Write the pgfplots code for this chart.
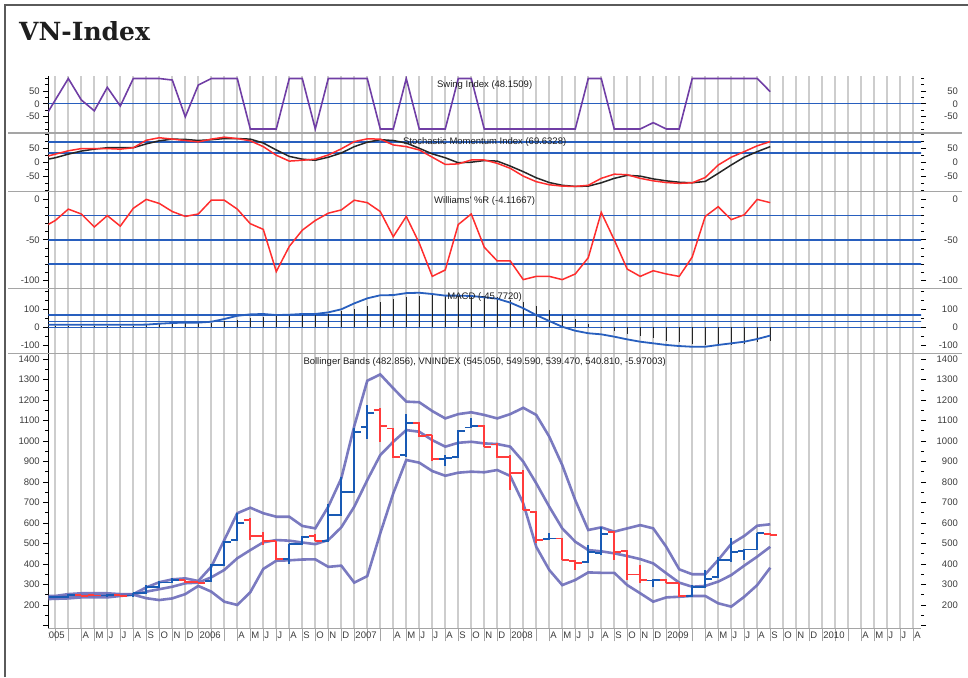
\documentclass[border=0pt]{standalone}
\usepackage{pgfplots}
\pgfplotsset{compat=1.18}
\usepackage{pgfplotstable}
\usepackage{fontspec}
\newfontfamily\labfont{Liberation Sans}
\newfontfamily\titlefont{DejaVu Serif}
\def\lf{\labfont\fontsize{9.5}{11}\selectfont}

\definecolor{gridgray}{RGB}{205,205,205}
\definecolor{sepcol}{RGB}{165,165,165}
\definecolor{framecol}{RGB}{90,90,90}
\definecolor{labcol}{RGB}{60,60,60}
\definecolor{titlecol}{RGB}{30,30,30}
\definecolor{hblue}{RGB}{40,95,190}
\definecolor{swingcol}{RGB}{112,62,165}
\definecolor{smired}{RGB}{255,45,45}
\definecolor{bbcol}{RGB}{108,108,185}
\definecolor{upblue}{RGB}{25,90,180}
\definecolor{dnred}{RGB}{255,60,60}

% open tick to the left, close tick to the right
\pgfdeclareplotmark{otick}{\pgfpathmoveto{\pgfqpoint{-6.5pt}{0pt}}\pgfpathlineto{\pgfqpoint{0pt}{0pt}}\pgfusepathqstroke}
\pgfdeclareplotmark{ctick}{\pgfpathmoveto{\pgfqpoint{0pt}{0pt}}\pgfpathlineto{\pgfqpoint{6.5pt}{0pt}}\pgfusepathqstroke}

% m = months since Jan 2005
\pgfplotstableread{
m swing smik smid wr macd hist bbu bbm bbl
0 -70 18 8 -35 15 10 244 237 228
1 15 30 17 -26 14 10 244 238 230
2 100 42 30 -12 14 10 253 244 232
3 15 50 41 -18 14 10 257 247 237
4 -28 50 48 -34 14 10 257 247 237
5 65 50 53 -20 14 10 257 248 237
6 -9 48 53 -33 14 10 253 249 244
7 100 53 53 -11 14 10 253 252 250
8 100 80 67 0 15 12 286 265 233
9 100 89 78 -5 20 17 311 277 224
10 94 84 84 -15 24 20 325 289 232
11 -52 79 83 -21 26 22 330 306 253
12 74 74 79 -18 26 22 317 309 293
13 100 84 82 -1 31 24 387 335 265
14 100 91 86 -1 46 33 517 371 216
15 100 86 86 -12 64 41 648 428 200
16 -100 78 84 -30 72 52 675 468 262
17 -100 57 70 -37 74 59 648 506 376
18 -100 26 45 -89 68 65 631 517 416
19 100 5 22 -58 70 68 631 514 418
20 100 8 12 -38 74 70 586 505 422
21 -100 12 8 -26 74 72 574 497 423
22 100 27 19 -17 83 74 680 517 386
23 100 49 34 -13 100 91 818 579 392
24 100 75 57 -1 133 101 1074 680 309
25 100 85 73 -4 161 120 1295 810 341
26 -100 84 82 -15 178 142 1326 932 550
27 -100 63 79 -46 179 157 1258 997 745
28 100 57 70 -21 190 170 1193 1054 908
29 -100 45 51 -54 192 174 1190 1046 895
30 -100 19 31 -95 185 178 1147 1005 854
31 -100 -7 17 -87 176 174 1111 973 831
32 100 -5 -1 -31 176 178 1132 992 846
33 100 9 1 -18 174 174 1141 997 851
34 -100 9 7 -59 167 174 1128 989 848
35 -100 -3 5 -76 159 167 1111 986 859
36 -100 -21 -13 -76 137 152 1132 973 830
37 -100 -49 -33 -99 106 143 1163 900 696
38 -100 -69 -55 -95 68 118 1128 794 484
39 -100 -80 -72 -95 35 96 1022 680 371
40 -100 -85 -82 -99 3 68 883 574 297
41 -100 -86 -86 -92 -19 44 712 509 322
42 100 -82 -85 -72 -33 17 566 468 359
43 100 -57 -73 -16 -39 2 579 462 357
44 -100 -42 -57 -50 -52 -19 558 452 357
45 -100 -44 -46 -86 -67 -37 574 439 297
46 -100 -57 -49 -95 -80 -50 590 424 257
47 -75 -66 -59 -88 -89 -61 574 403 216
48 -100 -72 -66 -92 -98 -74 484 355 237
49 -100 -75 -71 -95 -104 -80 374 309 240
50 100 -73 -73 -71 -108 -93 350 289 244
51 100 -54 -68 -21 -108 -98 350 293 244
52 100 -9 -39 -9 -98 -98 420 314 208
53 100 19 -9 -25 -89 -98 498 346 192
54 100 39 19 -19 -80 -93 537 392 240
55 100 60 39 0 -65 -83 587 436 297
56 48 75 57 -4 -46 -74 594 484 382
}\ind

% monthly bars, close >= open
\pgfplotstableread{
m O H L C
0 237 242 232 240
1 237 243 234 240
2 240 252 237 249
5 246 252 244 250
7 246 260 244 257
8 257 297 255 289
9 289 318 287 310
10 310 330 308 322
13 318 400 314 395
14 395 512 393 509
15 517 647 515 602
19 423 498 400 498
20 498 537 496 533
22 514 691 512 639
23 639 826 636 753
24 753 1062 750 1046
25 1070 1176 1009 1139
28 932 1132 924 1090
31 911 932 878 916
32 921 1054 916 1051
33 1067 1111 1062 1074
39 522 550 515 525
42 411 493 405 460
43 452 582 445 546
47 319 325 286 322
50 244 297 240 286
51 286 371 284 327
52 338 436 335 420
53 420 525 411 457
54 463 472 419 471
55 471 550 468 550
}\up

% monthly bars, close < open
\pgfplotstableread{
m O H L C
3 249 251 243 245
4 249 250 244 246
6 249 251 243 245
11 322 324 306 312
12 312 314 305 308
16 615 625 518 537
17 537 557 493 512
18 512 514 422 423
21 538 545 510 514
26 1152 1160 997 1074
27 1062 1064 916 924
29 1090 1095 1019 1025
30 1030 1032 905 911
34 1074 1078 973 973
35 984 990 916 924
36 924 930 761 846
37 846 859 664 664
38 655 660 504 517
40 525 528 419 419
41 416 420 371 406
44 558 560 420 460
45 465 468 322 349
46 349 395 308 322
48 322 325 306 309
49 306 306 237 244
56 545.05 549.59 539.47 540.81
}\down

\pgfplotsset{
  panel/.style={scale only axis, width=872.7pt, xmin=0.46, xmax=67.6,
    hide x axis, axis y line*=left, tick align=outside,
    major tick length=5pt, minor tick length=3pt,
    major tick style={black, line width=0.9pt},
    minor tick style={black, line width=0.9pt},
    axis line style={black, line width=1pt},
    ticklabel style={font=\lf, text=labcol},
    /pgf/number format/assume math mode=true,
    /pgf/number format/1000 sep={}, scaled y ticks=false},
  rpanel/.style={panel, axis y line*=right, y axis line style={draw=none},
    yticklabel style={anchor=east, inner sep=0pt, xshift=32pt}},
  p1/.style={at={(48.3pt,-76pt)}, anchor=north west, height=57pt,
    ymin=-116, ymax=110, ytick={-50,0,50}, minor ytick={-100,-75,-25,25,75,100}},
  p2/.style={at={(48.3pt,-133pt)}, anchor=north west, height=58.7pt,
    ymin=-105, ymax=106, ytick={-50,0,50}, minor ytick={-100,-75,-25,25,75,100}},
  p3/.style={at={(48.3pt,-191.7pt)}, anchor=north west, height=96.6pt,
    ymin=-109.7, ymax=9.5, ytick={-100,-50,0}, minor ytick={-110,-100,...,0}},
  p4/.style={at={(48.3pt,-288.3pt)}, anchor=north west, height=65pt,
    ymin=-144.4, ymax=216.7, ytick={-100,0,100}, minor ytick={-150,-50,50,150,200}},
  p5/.style={at={(48.3pt,-353.3pt)}, anchor=north west, height=275pt,
    ymin=86, ymax=1429, ytick={200,300,...,1400}, minor ytick={150,250,...,1350},
    extra y ticks={100}, extra y tick labels={}},
}
\tikzset{ttl/.style={anchor=base, yshift=-11.5pt, font=\lf, text=titlecol, inner sep=0pt}}

\begin{document}
\begin{tikzpicture}
\useasboundingbox (0,0) rectangle (968pt,-677pt);
\draw[framecol, line width=1.3pt] (5pt,-677pt) -- (5pt,-5pt) -- (968pt,-5pt);
\node[anchor=base west, inner sep=0pt, text=titlecol,
  font=\titlefont\bfseries\fontsize{25}{29}\selectfont] at (19pt,-40.5pt) {VN-Index};

% month grid and axis labels
\begin{axis}[scale only axis, width=872.7pt, height=552.3pt,
  at={(48.3pt,-628.3pt)}, anchor=south west,
  xmin=0.46, xmax=67.6, ymin=0, ymax=1,
  hide y axis, axis x line*=bottom,
  x axis line style={sepcol, line width=1.2pt},
  xtick={1,...,67},
  xticklabels={,,A,M,J,J,A,S,O,N,D,
    2006,,,A,M,J,J,A,S,O,N,D,
    2007,,,A,M,J,J,A,S,O,N,D,
    2008,,,A,M,J,J,A,S,O,N,D,
    2009,,,A,M,J,J,A,S,O,N,D,
    2010,,,A,M,J,J,A},
  xmajorgrids, grid style={gridgray, line width=1.8pt},
  tick align=outside, major tick length=13pt,
  x tick style={sepcol, line width=1pt},
  xticklabel style={anchor=north west, inner sep=1pt, yshift=11pt, font=\lf, text=labcol}]
\end{axis}

% Swing Index
\begin{axis}[panel, p1]
\addplot[hblue, line width=1.5pt] coordinates {(0,0) (68,0)};
\addplot[swingcol, line width=1.6pt] table[x=m,y=swing]{\ind};
\node[ttl] at (rel axis cs:0.5,1) {Swing Index (48.1509)};
\end{axis}
\begin{axis}[rpanel, p1]\end{axis}

% Stochastic Momentum Index
\begin{axis}[panel, p2]
\addplot[hblue, line width=2.2pt] coordinates {(0,75) (68,75)};
\addplot[hblue, line width=1.4pt] coordinates {(0,34) (68,34)};
\node[ttl] at (rel axis cs:0.5,1) {Stochastic Momentum Index (69.6328)};
\addplot[black!85, line width=1.5pt] table[x=m,y=smid]{\ind};
\addplot[smired, line width=1.5pt] table[x=m,y=smik]{\ind};
\end{axis}
\begin{axis}[rpanel, p2]\end{axis}

% Williams %R
\begin{axis}[panel, p3]
\addplot[hblue, line width=1.5pt] coordinates {(0,-20) (68,-20)};
\addplot[hblue, line width=2.2pt] coordinates {(0,-50) (68,-50)};
\addplot[hblue, line width=1.5pt] coordinates {(0,-80) (68,-80)};
\addplot[smired, line width=1.5pt] table[x=m,y=wr]{\ind};
\node[ttl] at (rel axis cs:0.5,1) {Williams' \%R (-4.11667)};
\end{axis}
\begin{axis}[rpanel, p3]\end{axis}

% MACD
\begin{axis}[panel, p4]
\addplot[hblue, line width=1.5pt] coordinates {(0,68) (68,68)};
\addplot[hblue, line width=1.5pt] coordinates {(0,31) (68,31)};
\addplot[hblue, line width=1.5pt] coordinates {(0,0) (68,0)};
\addplot[ycomb, black!85, line width=1.2pt] table[x=m,y=hist]{\ind};
\addplot[hblue, line width=1.8pt] table[x=m,y=macd]{\ind};
\node[ttl] at (rel axis cs:0.5,1) {MACD (-45.7720)};
\end{axis}
\begin{axis}[rpanel, p4]\end{axis}

% Bollinger Bands and monthly bars
\begin{axis}[panel, p5]
\addplot[bbcol, line width=2.6pt, opacity=0.9] table[x=m,y=bbu]{\ind};
\addplot[bbcol, line width=2.6pt, opacity=0.9] table[x=m,y=bbm]{\ind};
\addplot[bbcol, line width=2.6pt, opacity=0.9] table[x=m,y=bbl]{\ind};
\addplot[upblue, line width=1.8pt, only marks, mark=otick,
  error bars/.cd, y dir=both, y explicit, error mark=none,
  error bar style={upblue, line width=1.8pt}]
  table[x=m, y=O, y error plus expr=\thisrow{H}-\thisrow{O},
        y error minus expr=\thisrow{O}-\thisrow{L}]{\up};
\addplot[upblue, line width=1.8pt, only marks, mark=ctick] table[x=m,y=C]{\up};
\addplot[dnred, line width=1.8pt, only marks, mark=otick,
  error bars/.cd, y dir=both, y explicit, error mark=none,
  error bar style={dnred, line width=1.8pt}]
  table[x=m, y=O, y error plus expr=\thisrow{H}-\thisrow{O},
        y error minus expr=\thisrow{O}-\thisrow{L}]{\down};
\addplot[dnred, line width=1.8pt, only marks, mark=ctick] table[x=m,y=C]{\down};
\node[ttl] at (rel axis cs:0.5,1) {Bollinger Bands (482.856), VNINDEX (545.050, 549.590, 539.470, 540.810, -5.97003)};
\end{axis}
\begin{axis}[rpanel, p5]\end{axis}

% panel separators
\foreach \yy in {133,191.7,288.3,353.3}
  \draw[sepcol, line width=1.5pt] (8pt,{-\yy*1pt}) -- (962pt,{-\yy*1pt});

% year label of the first month, cut at the axis
\begin{scope}
\clip (48.3pt,-629pt) rectangle (120pt,-650pt);
\node[anchor=north west, inner sep=1pt, font=\lf, text=labcol] at (42.3pt,-630.3pt) {2005};
\end{scope}
\end{tikzpicture}
\end{document}
